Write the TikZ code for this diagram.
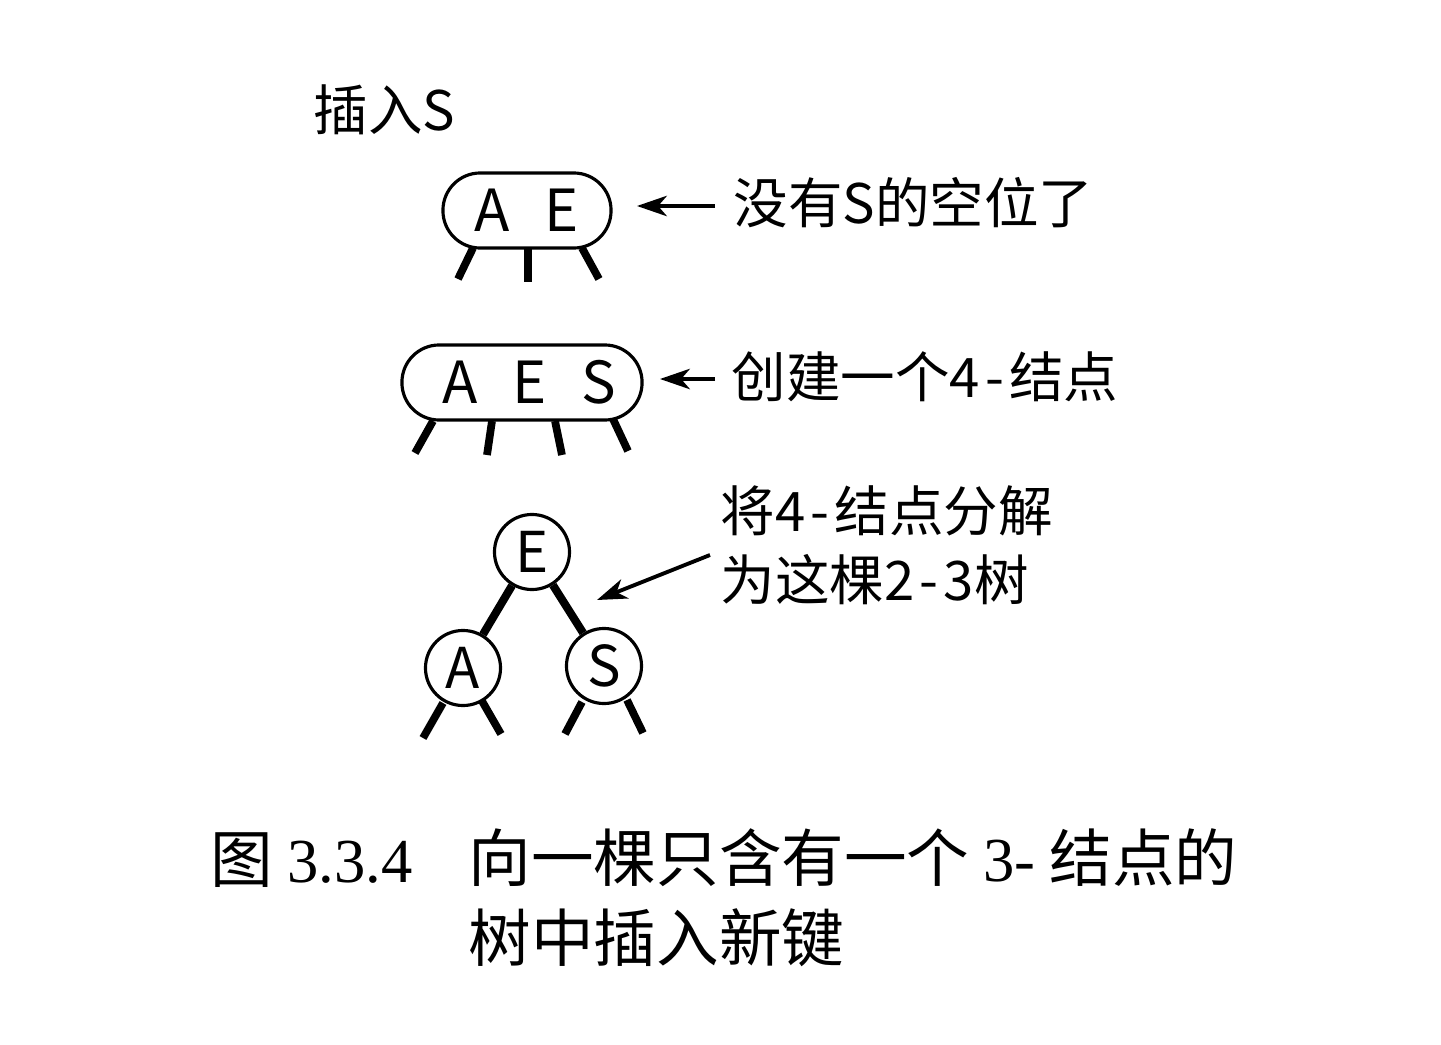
\documentclass[tikz,border=0pt]{standalone}
\usepackage{fontspec}
\setmainfont{Noto Sans CJK SC}
\newfontfamily\capserif{Liberation Serif}
\usetikzlibrary{arrows.meta}
\newcommand{\wdash}{\kern1.5pt-\kern1.5pt}
\tikzset{
  keybox/.style={draw, line width=0.9pt, rounded corners=10.6pt, inner sep=0pt, minimum height=0.75cm, font=\fontsize{16.5pt}{18pt}\selectfont},
  keycirc/.style={draw, circle, line width=0.9pt, inner sep=0pt, minimum size=0.75cm, font=\fontsize{16pt}{18pt}\selectfont},
  leg/.style={line width=2.2pt},
  treeedge/.style={line width=2.3pt},
  note/.style={anchor=west, inner sep=0pt, font=\fontsize{15.5pt}{19pt}\selectfont},
  pointer/.style={line width=1.1pt, -{Stealth[length=8.5pt,width=5.8pt,inset=2.5pt]}},
  capt/.style={inner sep=0pt, font=\fontsize{17.8pt}{22.6pt}\selectfont}
}
\begin{document}
\begin{tikzpicture}[x=0.01cm, y=-0.01cm]
\useasboundingbox (0,0) rectangle (1441,1045);
% title
\node[note] (title) at (313,110) {插入S};
% 3-node
\node[keybox, minimum width=1.68cm] (n1) at (527,210.5) {A\hspace{0.6em}E};
\draw[leg] (473,248) -- (458,279);
\draw[leg] (528,249) -- (528,282);
\draw[leg] (582,248) -- (599,279);
\coordinate (t1) at (715,206);
\coordinate (h1) at (637,206);
\node[note] (l1) at (733,203) {没有S的空位了};
\draw[pointer] (t1) -- (h1);
% 4-node
\node[keybox, minimum width=2.40cm] (n2) at (522,382.5) {\hspace{4pt}A\hspace{0.6em}E\hspace{0.6em}S};
\draw[leg] (433,421) -- (415,453);
\draw[leg] (492,421) -- (487,455);
\draw[leg] (555,421) -- (562,455);
\draw[leg] (613,419) -- (628,451);
\coordinate (t2) at (715,379);
\coordinate (h2) at (660,379);
\node[note] (l2) at (731,377) {创建一个4\wdash 结点};
\draw[pointer] (t2) -- (h2);
% 2-3 tree
\node[keycirc] (e) at (532,552) {E};
\node[keycirc] (a) at (463,668) {A};
\node[keycirc] (s) at (604,666) {S};
\draw[treeedge] (e) -- (a);
\draw[treeedge] (e) -- (s);
\draw[leg] (443,703) -- (423,738);
\draw[leg] (482,701) -- (501,734);
\draw[leg] (582,702) -- (565,734);
\draw[leg] (627,700) -- (643,733);
\node[note, align=left, font=\fontsize{15.5pt}{19.5pt}\selectfont] (l3) at (720,545) {将4\wdash 结点分解\\为这棵2\wdash 3树};
\coordinate (t3) at (710,555);
\coordinate (h3) at (597,600);
\draw[pointer] (t3) -- (h3);
% caption
\node[capt, anchor=west] (fig) at (210,860) {图 {\capserif 3.3.4}};
\node[capt, anchor=north west, align=left] (cap) at (468,828) {向一棵只含有一个 {\capserif 3-} 结点的\\树中插入新键};
\end{tikzpicture}
\end{document}
